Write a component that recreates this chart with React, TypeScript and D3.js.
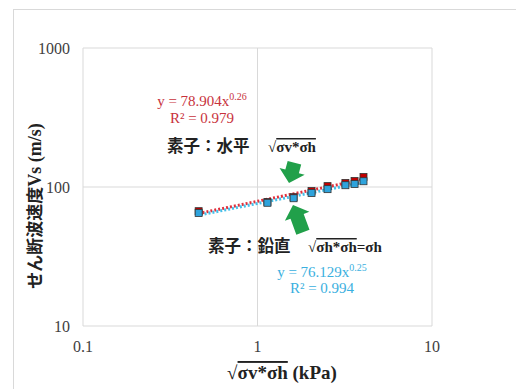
import React from "react";
import * as d3 from "d3";

// horizontal element (素子：水平), vertical element (素子：鉛直)
const xValues = [0.46, 1.14, 1.61, 2.04, 2.52, 3.19, 3.6, 4.05];
const vsHorizontal = [67, 78, 84.5, 93.5, 101.5, 107, 110.5, 118];
const vsVertical = [65, 77, 83, 90.5, 96.5, 103, 105, 110];
const xTicks = [0.1, 1, 10];
const yTicks = [10, 100, 1000];

const fitH = { a: 78.904, b: 0.26, r2: "0.979" };
const fitV = { a: 76.129, b: 0.25, r2: "0.994" };

const W = 516;
const H = 389;
const serif = "'Liberation Serif', 'Times New Roman', serif";
const cjk = "'Noto Sans CJK JP', sans-serif";

const Arrow = ({ tip, angle, len }: { tip: [number, number]; angle: number; len: number }) => {
  // block arrow pointing down (+y) before rotation, tip at origin
  const hw = 13, hl = 12, sw = 7;
  const pts = [
    [0, 0], [-hw, -hl], [-sw, -hl], [-sw, -len], [sw, -len], [sw, -hl], [hw, -hl],
  ];
  return (
    <polygon
      points={pts.map((p) => p.join(",")).join(" ")}
      transform={`translate(${tip[0]},${tip[1]}) rotate(${angle})`}
      fill="#21a04a"
    />
  );
};

export default function App() {
  const x = d3.scaleLog().domain([0.1, 10]).range([83, 432]);
  const y = d3.scaleLog().domain([10, 1000]).range([326, 48]);
  const line = d3.line<number[]>().x((d) => x(d[0])).y((d) => y(d[1]));
  const xr = d3.extent(xValues) as [number, number];
  const fitLine = (f: { a: number; b: number }) => line(xr.map((v) => [v, f.a * Math.pow(v, f.b)]));
  const s = 7;

  return (
    <svg width={W} height={H} style={{ position: "absolute", left: 0, top: 0 }}>
      <rect x={0} y={0} width={W} height={H} fill="#fff" />
      <rect x={13.5} y={9.5} width={540} height={420} fill="#fff" stroke="#d9d9d9" />

      {xTicks.map((t) => (
        <line key={"gx" + t} x1={x(t)} x2={x(t)} y1={y(10)} y2={y(1000)} stroke="#d9d9d9" />
      ))}
      {yTicks.map((t) => (
        <line key={"gy" + t} x1={x(0.1)} x2={x(10)} y1={y(t)} y2={y(t)} stroke="#d9d9d9" />
      ))}

      {yTicks.map((t) => (
        <text key={"ty" + t} x={70} y={y(t)} dy="0.35em" textAnchor="end" fontFamily={serif} fontSize={16} fill="#404040">
          {t}
        </text>
      ))}
      {xTicks.map((t) => (
        <text key={"tx" + t} x={x(t)} y={346} dy="0.35em" textAnchor="middle" fontFamily={serif} fontSize={16} fill="#404040">
          {t}
        </text>
      ))}

      <text transform="translate(41,206) rotate(-90)" textAnchor="middle" fontWeight="bold" fill="#222">
        <tspan fontFamily={cjk} fontSize={17}>せん断波速度</tspan>
        <tspan fontFamily={serif} fontSize={18}>Vs (m/s)</tspan>
      </text>
      <text x={282} y={379} textAnchor="middle" fontFamily={serif} fontSize={19} fontWeight="bold" fill="#222">
        √<tspan style={{ textDecoration: "overline" }}>σv*σh</tspan> (kPa)
      </text>

      <path d={fitLine(fitH) || ""} fill="none" stroke="#e0303c" strokeWidth={3} strokeDasharray="2 2" />
      <path d={fitLine(fitV) || ""} fill="none" stroke="#45c0ea" strokeWidth={3} strokeDasharray="2 2" strokeDashoffset={2} />

      {xValues.map((v, i) => (
        <rect key={"h" + i} x={x(v) - s / 2} y={y(vsHorizontal[i]) - s / 2} width={s} height={s} fill="#c00000" stroke="#333" strokeWidth={0.8} />
      ))}
      {xValues.map((v, i) => (
        <rect key={"v" + i} x={x(v) - s / 2} y={y(vsVertical[i]) - s / 2} width={s} height={s} fill="#2ea3dc" stroke="#333" strokeWidth={0.8} />
      ))}

      <text x={202} y={106} textAnchor="middle" fontFamily={serif} fontSize={15} fill="#c8323c">
        y = {fitH.a}x<tspan dy={-6} fontSize={10}>{fitH.b}</tspan>
      </text>
      <text x={202} y={123} textAnchor="middle" fontFamily={serif} fontSize={15} fill="#c8323c">
        R² = {fitH.r2}
      </text>
      <text x={322} y={277} textAnchor="middle" fontFamily={serif} fontSize={15} fill="#3ab0e0">
        y = {fitV.a}x<tspan dy={-6} fontSize={10}>{fitV.b}</tspan>
      </text>
      <text x={322} y={293} textAnchor="middle" fontFamily={serif} fontSize={15} fill="#3ab0e0">
        R² = {fitV.r2}
      </text>

      <text x={167} y={152} fontFamily={cjk} fontSize={16.5} fontWeight="bold" fill="#222">素子：水平</text>
      <text x={268} y={152} fontFamily={serif} fontSize={15} fontWeight="bold" fill="#222">
        √<tspan style={{ textDecoration: "overline" }}>σv*σh</tspan>
      </text>
      <text x={208} y={252} fontFamily={cjk} fontSize={16.5} fontWeight="bold" fill="#222">素子：鉛直</text>
      <text x={308} y={252} fontFamily={serif} fontSize={15} fontWeight="bold" fill="#222">
        √<tspan style={{ textDecoration: "overline" }}>σh*σh</tspan>=σh
      </text>

      <Arrow tip={[289, 183]} angle={15} len={21} />
      <Arrow tip={[293, 205]} angle={160} len={29} />
    </svg>
  );
}
